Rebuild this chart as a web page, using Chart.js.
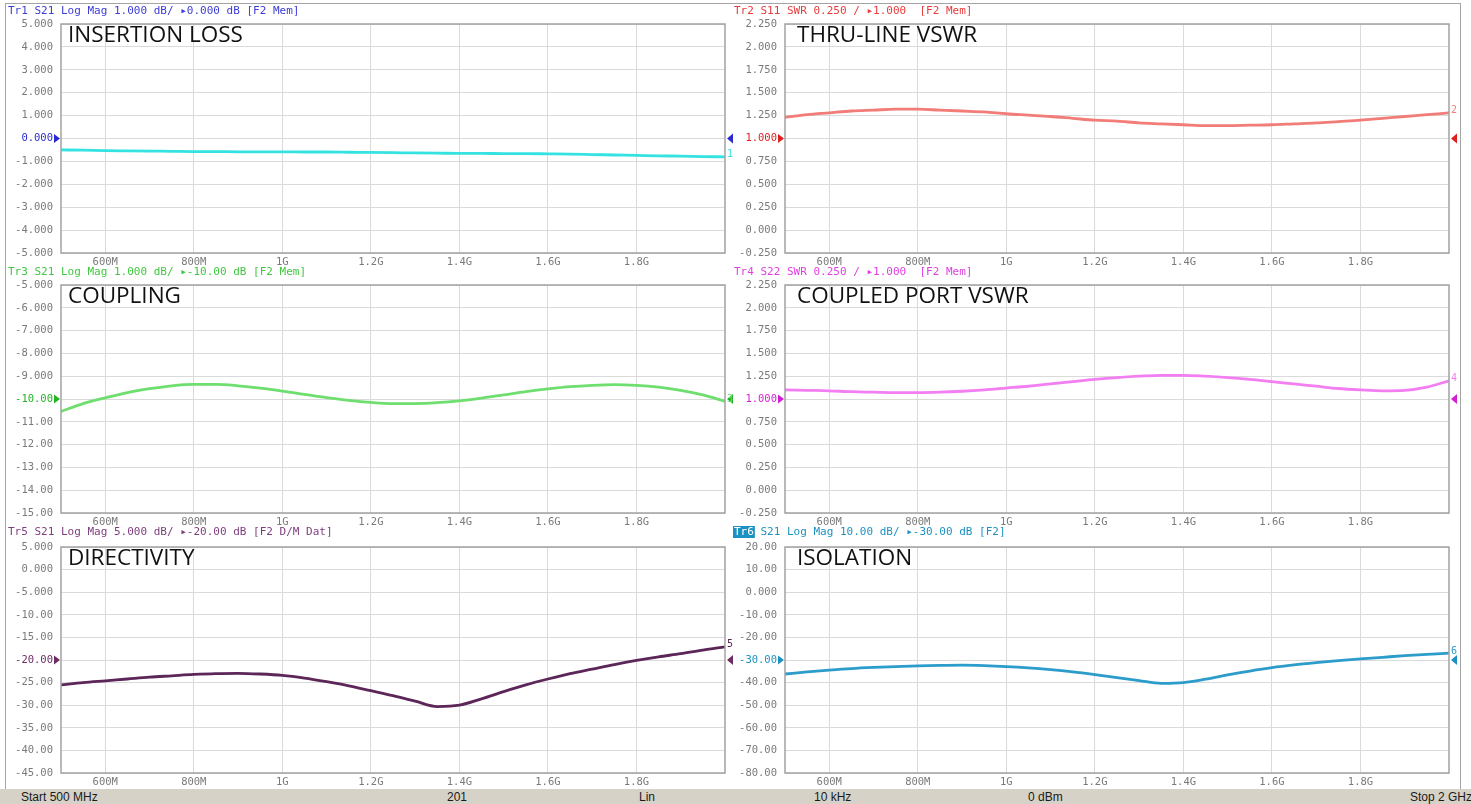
<!DOCTYPE html>
<html>
<head>
<meta charset="utf-8">
<script src="https://cdn.jsdelivr.net/npm/chart.js@4.4.1/dist/chart.umd.min.js"></script>
<style>
  body { margin: 0; width: 1471px; height: 804px; overflow: hidden; background: #fff; position: relative; }
  canvas { position: absolute; }
  #frame { position: absolute; left: 5px; top: 3px; width: 1456px; height: 787px; box-sizing: border-box;
           border: 1px solid #a4a4a4; border-bottom: none; }
  #bar { position: absolute; left: 0; top: 789px; width: 1471px; height: 15px; background: #d6d2c8;
         font: 12px "Liberation Sans Narrow", "Liberation Sans", sans-serif; color: #1a1a1a; }
  #bar span { position: absolute; top: 1px; white-space: nowrap; }
</style>
</head>
<body>
<div id="frame"></div>
<canvas id="c1"></canvas>
<canvas id="c2"></canvas>
<canvas id="c3"></canvas>
<canvas id="c4"></canvas>
<canvas id="c5"></canvas>
<canvas id="c6"></canvas>
<div id="bar">
  <span style="left:21px">Start 500 MHz</span>
  <span style="left:447px">201</span>
  <span style="left:639px">Lin</span>
  <span style="left:814px">10 kHz</span>
  <span style="left:1028px">0 dBm</span>
  <span style="left:1410px">Stop 2 GHz</span>
</div>
<script>
// sweep points, MHz
const freqs = [500, 550, 600, 650, 700, 750, 800, 850, 900, 950, 1000, 1050, 1100, 1150, 1200, 1250,
               1300, 1350, 1400, 1450, 1500, 1550, 1600, 1650, 1700, 1750, 1800, 1850, 1900, 1950, 2000];
const xTickValues = [600, 800, 1000, 1200, 1400, 1600, 1800];
const xTickLabels = ['600M', '800M', '1G', '1.2G', '1.4G', '1.6G', '1.8G'];

// traces
const insertionLoss = [-0.50, -0.51, -0.53, -0.54, -0.55, -0.56, -0.57, -0.57, -0.58, -0.58, -0.58, -0.59, -0.59, -0.60, -0.61, -0.62,
                       -0.63, -0.64, -0.65, -0.65, -0.66, -0.66, -0.67, -0.68, -0.70, -0.72, -0.74, -0.76, -0.77, -0.79, -0.80];
const thruVswr = [1.23, 1.26, 1.28, 1.30, 1.31, 1.32, 1.32, 1.31, 1.30, 1.29, 1.27, 1.255, 1.24, 1.22, 1.20, 1.19,
                  1.17, 1.16, 1.15, 1.14, 1.14, 1.145, 1.15, 1.16, 1.17, 1.185, 1.20, 1.22, 1.24, 1.26, 1.28];
const coupling = [-10.55, -10.2, -9.95, -9.72, -9.55, -9.42, -9.36, -9.36, -9.42, -9.52, -9.65, -9.80, -9.94, -10.06, -10.15, -10.2,
                  -10.2, -10.16, -10.08, -9.96, -9.82, -9.68, -9.56, -9.46, -9.40, -9.37, -9.40, -9.48, -9.62, -9.82, -10.10];
const coupledVswr = [1.10, 1.095, 1.09, 1.08, 1.075, 1.07, 1.07, 1.075, 1.085, 1.10, 1.12, 1.14, 1.165, 1.19, 1.215, 1.235,
                     1.25, 1.26, 1.26, 1.25, 1.235, 1.215, 1.19, 1.165, 1.14, 1.115, 1.10, 1.09, 1.095, 1.13, 1.20];
const directivity = [-25.5, -25.0, -24.6, -24.2, -23.8, -23.5, -23.2, -23.0, -22.95, -23.1, -23.4, -24.0, -24.8, -25.7, -26.8, -27.9,
                     -29.1, -30.3, -30.0, -28.6, -27.0, -25.5, -24.2, -23.0, -22.0, -21.0, -20.1, -19.3, -18.6, -17.8, -17.1];
const isolation = [-36.2, -35.3, -34.5, -33.8, -33.3, -32.9, -32.6, -32.4, -32.3, -32.5, -32.9, -33.5, -34.3, -35.3, -36.5, -37.8,
                   -39.1, -40.3, -40.0, -38.5, -36.6, -34.9, -33.4, -32.2, -31.2, -30.3, -29.5, -28.8, -28.1, -27.5, -27.0];

// y ticks
const ticksLoss = [5, 4, 3, 2, 1, 0, -1, -2, -3, -4, -5];
const labelsLoss = ['5.000', '4.000', '3.000', '2.000', '1.000', '0.000', '-1.000', '-2.000', '-3.000', '-4.000', '-5.000'];
const ticksSwr = [2.25, 2, 1.75, 1.5, 1.25, 1, 0.75, 0.5, 0.25, 0, -0.25];
const labelsSwr = ['2.250', '2.000', '1.750', '1.500', '1.250', '1.000', '0.750', '0.500', '0.250', '0.000', '-0.250'];
const ticksCpl = [-5, -6, -7, -8, -9, -10, -11, -12, -13, -14, -15];
const labelsCpl = ['-5.000', '-6.000', '-7.000', '-8.000', '-9.000', '-10.00', '-11.00', '-12.00', '-13.00', '-14.00', '-15.00'];
const ticksDir = [5, 0, -5, -10, -15, -20, -25, -30, -35, -40, -45];
const labelsDir = ['5.000', '0.000', '-5.000', '-10.00', '-15.00', '-20.00', '-25.00', '-30.00', '-35.00', '-40.00', '-45.00'];
const ticksIso = [20, 10, 0, -10, -20, -30, -40, -50, -60, -70, -80];
const labelsIso = ['20.00', '10.00', '0.000', '-10.00', '-20.00', '-30.00', '-40.00', '-50.00', '-60.00', '-70.00', '-80.00'];

const titles = ['INSERTION LOSS', 'THRU-LINE VSWR', 'COUPLING', 'COUPLED PORT VSWR', 'DIRECTIVITY', 'ISOLATION'];
const headers = [
  'Tr1 S21 Log Mag 1.000 dB/ ▸0.000 dB [F2 Mem]',
  'Tr2 S11 SWR 0.250 / ▸1.000  [F2 Mem]',
  'Tr3 S21 Log Mag 1.000 dB/ ▸-10.00 dB [F2 Mem]',
  'Tr4 S22 SWR 0.250 / ▸1.000  [F2 Mem]',
  'Tr5 S21 Log Mag 5.000 dB/ ▸-20.00 dB [F2 D/M Dat]',
  'Tr6 S21 Log Mag 10.00 dB/ ▸-30.00 dB [F2]'
];
const refLevels = [0, 1, -10, 1, -20, -30];

// layout (page pixels)
const rows = [
  { top: 3, boxTop: 24, boxBottom: 253 },
  { top: 264, boxTop: 285, boxBottom: 513 },
  { top: 524, boxTop: 547, boxBottom: 773 }
];
const cols = [
  { left: 0, width: 742, boxLeft: 61, boxRight: 725, headX: 8, titleDx: 7 },
  { left: 730, width: 741, boxLeft: 785, boxRight: 1449, headX: 4, titleDx: 12 }
];

const panels = [
  { values: insertionLoss, ticks: ticksLoss, labels: labelsLoss, line: '#35e2e2', mark: '#2a2ad2', head: '#3c3cd6', badge: false },
  { values: thruVswr, ticks: ticksSwr, labels: labelsSwr, line: '#f27c78', mark: '#e01e1e', head: '#e63c3c', badge: false },
  { values: coupling, ticks: ticksCpl, labels: labelsCpl, line: '#6ede6e', mark: '#22b422', head: '#40c840', badge: false },
  { values: coupledVswr, ticks: ticksSwr, labels: labelsSwr, line: '#f27ef2', mark: '#d41ed4', head: '#e040e0', badge: false },
  { values: directivity, ticks: ticksDir, labels: labelsDir, line: '#5c2658', mark: '#6c2c64', head: '#7e3e7e', badge: false },
  { values: isolation, ticks: ticksIso, labels: labelsIso, line: '#2c9cca', mark: '#1c92c2', head: '#1c92c2', badge: true }
];

const vnaPlugin = {
  id: 'vna',
  afterDraw(chart, args, o) {
    const ctx = chart.ctx;
    const a = chart.chartArea;
    ctx.save();
    // plot frame
    ctx.strokeStyle = '#a2a2a2';
    ctx.lineWidth = 1.5;
    ctx.strokeRect(a.left, a.top, a.right - a.left, a.bottom - a.top);
    // big label
    ctx.fillStyle = '#111';
    ctx.font = '22.5px "Open Sans", sans-serif';
    ctx.textBaseline = 'middle';
    ctx.textAlign = 'left';
    ctx.fillText(o.title, a.left + o.titleDx, a.top + 12);
    // trace header
    ctx.font = '11px "DejaVu Sans Mono", monospace';
    let hx = o.headX;
    let text = o.header;
    if (o.badge) {
      const w = ctx.measureText('Tr6').width;
      ctx.fillStyle = o.head;
      ctx.fillRect(hx - 1, 2, w + 2, 12);
      ctx.fillStyle = '#fff';
      ctx.fillText('Tr6', hx, 8);
      hx += w;
      text = text.slice(3);
    }
    ctx.fillStyle = o.head;
    ctx.fillText(text, hx, 8);
    // reference markers
    const y = chart.scales.y.getPixelForValue(o.ref);
    ctx.fillStyle = o.mark;
    ctx.beginPath();
    ctx.moveTo(a.left - 7, y - 4.5);
    ctx.lineTo(a.left - 1, y);
    ctx.lineTo(a.left - 7, y + 4.5);
    ctx.closePath();
    ctx.fill();
    ctx.beginPath();
    ctx.moveTo(a.right + 8, y - 5);
    ctx.lineTo(a.right + 2, y);
    ctx.lineTo(a.right + 8, y + 5);
    ctx.closePath();
    ctx.fill();
    // trace number at the end
    const meta = chart.getDatasetMeta(0);
    const last = meta.data[meta.data.length - 1];
    ctx.fillStyle = o.line;
    ctx.font = '10px "DejaVu Sans Mono", monospace';
    ctx.fillText(o.num, a.right + 2, last.y - 2);
    ctx.restore();
  }
};

panels.forEach((p, i) => {
  const row = rows[Math.floor(i / 2)];
  const col = cols[i % 2];
  const cv = document.getElementById('c' + (i + 1));
  const h = row.boxBottom - row.top + 18;
  cv.width = col.width;
  cv.height = h;
  cv.style.left = col.left + 'px';
  cv.style.top = row.top + 'px';
  cv.style.width = col.width + 'px';
  cv.style.height = h + 'px';
  const ref = refLevels[i];

  new Chart(cv, {
    type: 'line',
    data: {
      datasets: [{
        data: freqs.map((f, k) => ({ x: f, y: p.values[k] })),
        borderColor: p.line,
        borderWidth: 2.8,
        pointRadius: 0,
        cubicInterpolationMode: 'monotone',
        fill: false
      }]
    },
    options: {
      responsive: false,
      animation: false,
      devicePixelRatio: 1,
      layout: { padding: { top: row.boxTop - row.top, right: col.left + col.width - col.boxRight, left: 0, bottom: 0 } },
      plugins: {
        legend: { display: false },
        tooltip: { enabled: false },
        vna: {
          title: titles[i], header: headers[i], ref: ref, num: String(i + 1),
          line: p.line, mark: p.mark, head: p.head, badge: p.badge,
          headX: col.headX, titleDx: col.titleDx
        }
      },
      scales: {
        x: {
          type: 'linear', min: 500, max: 2000,
          afterBuildTicks: s => { s.ticks = xTickValues.map(v => ({ value: v })); },
          afterFit: s => { s.height = 18; },
          grid: { color: '#dadada', lineWidth: 1, drawTicks: false },
          border: { display: false },
          ticks: {
            padding: 3,
            color: '#7a7a7a',
            font: { family: '"DejaVu Sans Mono", monospace', size: 10.5 },
            callback: (v, k) => xTickLabels[k],
            maxRotation: 0, autoSkip: false
          }
        },
        y: {
          type: 'linear', min: p.ticks[p.ticks.length - 1], max: p.ticks[0],
          afterBuildTicks: s => { s.ticks = p.ticks.map(v => ({ value: v })); },
          afterFit: s => { s.width = col.boxLeft - col.left; },
          grid: { color: '#dadada', lineWidth: 1, drawTicks: false },
          border: { display: false },
          ticks: {
            padding: 8,
            color: c => (c.tick && Math.abs(c.tick.value - ref) < 1e-9) ? p.mark : '#7a7a7a',
            font: { family: '"DejaVu Sans Mono", monospace', size: 10.5 },
            callback: v => p.labels[p.ticks.indexOf(v)] ?? '',
            autoSkip: false
          }
        }
      }
    },
    plugins: [vnaPlugin]
  });
});
</script>
</body>
</html>
